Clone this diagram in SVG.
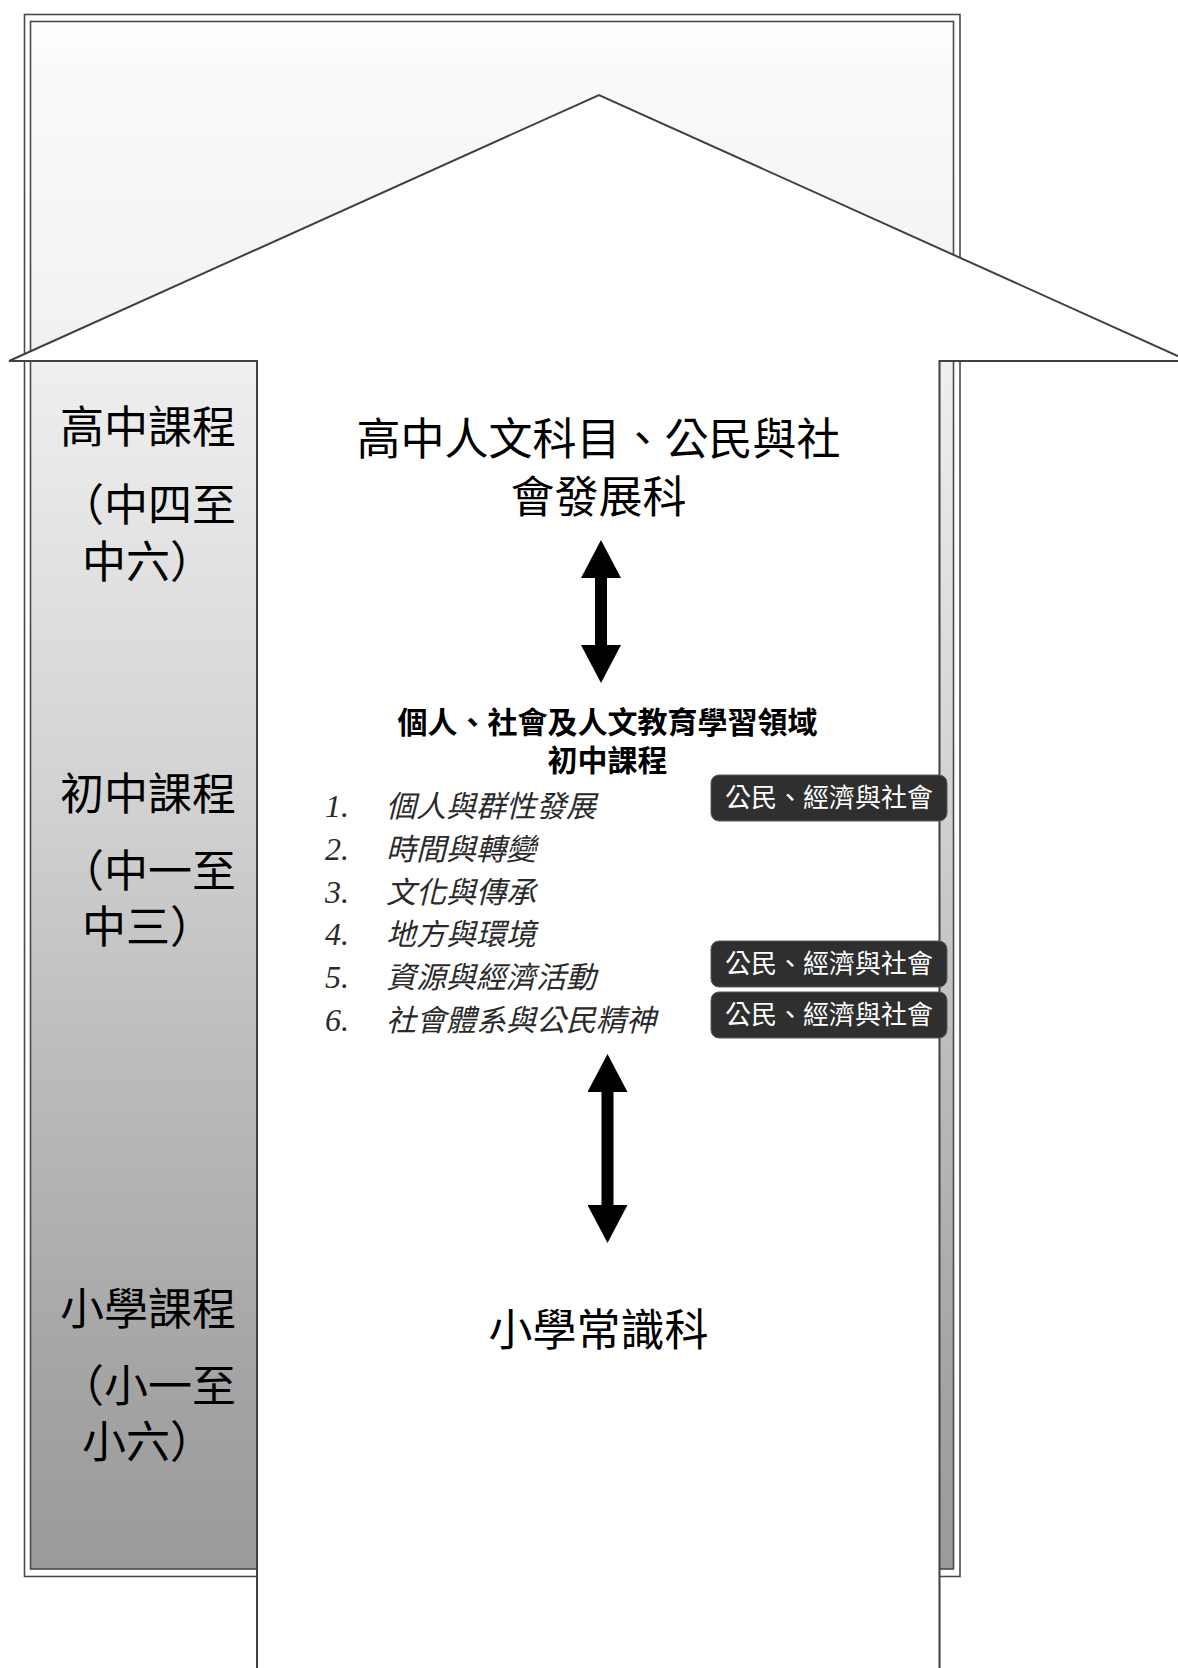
<svg xmlns="http://www.w3.org/2000/svg" width="1178" height="1668" viewBox="0 0 1178 1668">
<style>
.frame{stroke:#4a4a4a;stroke-width:1.6}
.outer{fill:#fff}
.inner{fill:url(#bg)}
.big{font-family:"Noto Sans CJK TC","Noto Sans CJK SC",sans-serif;font-size:44px;fill:#000;text-anchor:middle}
.head{font-family:"Noto Sans CJK TC","Noto Sans CJK SC",sans-serif;font-size:30px;font-weight:bold;fill:#000;text-anchor:middle}
.item{font-family:"Noto Sans CJK TC","Noto Sans CJK SC",sans-serif;font-size:30px;font-style:italic;fill:#2a2a2a}
.num{font-family:"Liberation Serif",serif;font-size:32px;font-style:italic;fill:#2a2a2a}
.badge rect{fill:#2f2f2f;stroke:#5a5a5a;stroke-width:1}
.badge text{font-family:"Noto Sans CJK TC","Noto Sans CJK SC",sans-serif;font-size:26px;fill:#fff;text-anchor:middle}
.conn{stroke:#000;stroke-width:12;marker-start:url(#head);marker-end:url(#head)}
</style>
<defs>
<linearGradient id="bg" x1="0" y1="21.5" x2="0" y2="1569" gradientUnits="userSpaceOnUse">
<stop offset="0" stop-color="#ffffff"/>
<stop offset="0.03" stop-color="#fafafa"/>
<stop offset="0.18" stop-color="#f3f3f3"/>
<stop offset="0.28" stop-color="#e9e9e9"/>
<stop offset="0.5" stop-color="#d2d2d2"/>
<stop offset="0.67" stop-color="#bcbcbc"/>
<stop offset="0.88" stop-color="#a4a4a4"/>
<stop offset="1" stop-color="#9a9a9a"/>
</linearGradient>
<marker id="head" markerUnits="userSpaceOnUse" markerWidth="38" markerHeight="40" viewBox="0 0 37 39" refX="0" refY="19.5" orient="auto-start-reverse">
<path d="M0,0 L37,19.5 L0,39 z" fill="#000"/>
</marker>
</defs>

<g id="frame">
<rect class="frame outer" x="24.5" y="14.5" width="935.5" height="1562"/>
<rect class="frame inner" x="30.5" y="21.5" width="923" height="1547.5"/>
</g>

<g id="big-arrow">
<polygon points="257,1680 257,361 9,361 599,95 1189,361 939.5,361 939.5,1680" fill="#fff" stroke="#404040" stroke-width="2" stroke-linejoin="miter"/>
</g>

<g id="level-senior">
<text class="big" x="148" y="443">高中課程</text>
<text class="big" x="148" y="521">（中四至</text>
<text class="big" x="148" y="578">中六）</text>
</g>
<g id="level-junior">
<text class="big" x="148" y="810">初中課程</text>
<text class="big" x="148" y="887">（中一至</text>
<text class="big" x="148" y="943">中三）</text>
</g>
<g id="level-primary">
<text class="big" x="148" y="1325">小學課程</text>
<text class="big" x="148" y="1402">（小一至</text>
<text class="big" x="148" y="1458">小六）</text>
</g>

<g id="node-senior">
<text class="big" x="598.5" y="455">高中人文科目、公民與社</text>
<text class="big" x="598.5" y="513">會發展科</text>
</g>

<g id="node-junior">
<text class="head" x="607.5" y="733">個人、社會及人文教育學習領域</text>
<text class="head" x="607.5" y="771">初中課程</text>
<text class="num" x="325" y="817">1.</text><text class="item" x="386" y="817">個人與群性發展</text>
<text class="num" x="325" y="860">2.</text><text class="item" x="386" y="860">時間與轉變</text>
<text class="num" x="325" y="903">3.</text><text class="item" x="386" y="903">文化與傳承</text>
<text class="num" x="325" y="945">4.</text><text class="item" x="386" y="945">地方與環境</text>
<text class="num" x="325" y="988">5.</text><text class="item" x="386" y="988">資源與經濟活動</text>
<text class="num" x="325" y="1031">6.</text><text class="item" x="386" y="1031">社會體系與公民精神</text>
</g>

<g id="badge-1" class="badge">
<rect x="711" y="775" width="236" height="46" rx="8"/>
<text x="829" y="807">公民、經濟與社會</text>
</g>
<g id="badge-2" class="badge">
<rect x="711" y="941" width="236" height="46" rx="8"/>
<text x="829" y="973">公民、經濟與社會</text>
</g>
<g id="badge-3" class="badge">
<rect x="711" y="992" width="236" height="46" rx="8"/>
<text x="829" y="1024">公民、經濟與社會</text>
</g>

<g id="node-primary">
<text class="big" x="598.5" y="1346">小學常識科</text>
</g>

<g id="connectors">
<line class="conn" x1="601" y1="578" x2="601" y2="645"/>
<line class="conn" x1="607.5" y1="1092" x2="607.5" y2="1205"/>
</g>
</svg>
